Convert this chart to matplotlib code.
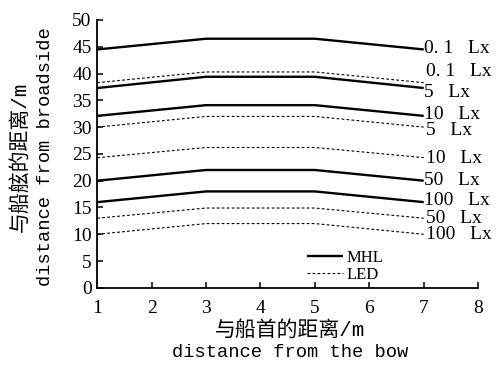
import matplotlib
matplotlib.use('Agg')
import matplotlib.pyplot as plt

# distance from the bow (m)
x = [1, 3, 5, 7]

# MHL lamps, solid lines
mhl_labels = ['0. 1   Lx', '5   Lx', '10   Lx', '50   Lx', '100   Lx']
mhl = [
    [44.5, 46.5, 46.5, 44.5],
    [37.3, 39.4, 39.4, 37.3],
    [32.1, 34.1, 34.1, 32.1],
    [20.0, 22.0, 22.0, 20.0],
    [16.0, 18.0, 18.0, 16.0],
]

# LED lamps, dashed lines
led_labels = ['0. 1   Lx', '5   Lx', '10   Lx', '50   Lx', '100   Lx']
led = [
    [38.3, 40.3, 40.3, 38.3],
    [30.0, 32.0, 32.0, 30.0],
    [24.3, 26.2, 26.2, 24.3],
    [13.0, 14.9, 14.9, 13.0],
    [10.0, 12.0, 12.0, 10.0],
]

# label nudges (data units) so the end labels do not overlap
mhl_off = [0.2, -0.8, 0.3, 0.1, 0.3]
led_off = [2.0, -0.6, -0.1, 0.0, 0.0]

serif = 'Liberation Serif'
mono = ['Liberation Mono', 'Noto Sans CJK SC']

fig = plt.figure(figsize=(4.96, 3.70), dpi=100)
ax = fig.add_axes([0.196, 0.222, 0.768, 0.724])

for i, ys in enumerate(mhl):
    ax.plot(x, ys, color='black', lw=1.7, solid_capstyle='butt',
            label='MHL' if i == 0 else None)
    ax.text(x[-1] + 0.0, ys[-1] + mhl_off[i], mhl_labels[i], family=serif,
            fontsize=14, va='center', ha='left')

for i, ys in enumerate(led):
    ax.plot(x, ys, color='black', lw=0.8, ls=(0, (2.5, 2)),
            label='LED' if i == 0 else None)
    ax.text(x[-1] + 0.05, ys[-1] + led_off[i], led_labels[i], family=serif,
            fontsize=14, va='center', ha='left')

ax.set_xlim(1, 8)
ax.set_ylim(0, 50)
ax.set_xticks(range(1, 9))
ax.set_yticks(range(0, 51, 5))
for s in ['top', 'right']:
    ax.spines[s].set_visible(False)
for s in ['left', 'bottom']:
    ax.spines[s].set_linewidth(1.3)
ax.tick_params(direction='in', length=4, width=1.1, labelsize=14)
ax.tick_params(axis='x', pad=9)
ax.tick_params(axis='y', pad=4)
for t in ax.get_xticklabels() + ax.get_yticklabels():
    t.set_family(serif)

# axis titles: Chinese line above/left of the English line
fig.text(0.585, 0.108, '与船首的距离/m', family=mono, fontsize=15,
         ha='center', va='center')
fig.text(0.585, 0.048, 'distance from the bow', family=mono, fontsize=13.5,
         ha='center', va='center')
fig.text(0.040, 0.576, '与船舷的距离/m', family=mono, fontsize=15,
         ha='center', va='center', rotation=90)
fig.text(0.091, 0.576, 'distance from broadside', family=mono, fontsize=13.5,
         ha='center', va='center', rotation=90)

leg = ax.legend(loc='center left', bbox_to_anchor=(0.55, 0.08), frameon=False,
                borderaxespad=0, borderpad=0,
                handlelength=2.2, handletextpad=0.2, labelspacing=0.05,
                prop={'family': serif, 'size': 12})

fig.savefig('out.png', dpi=100)
